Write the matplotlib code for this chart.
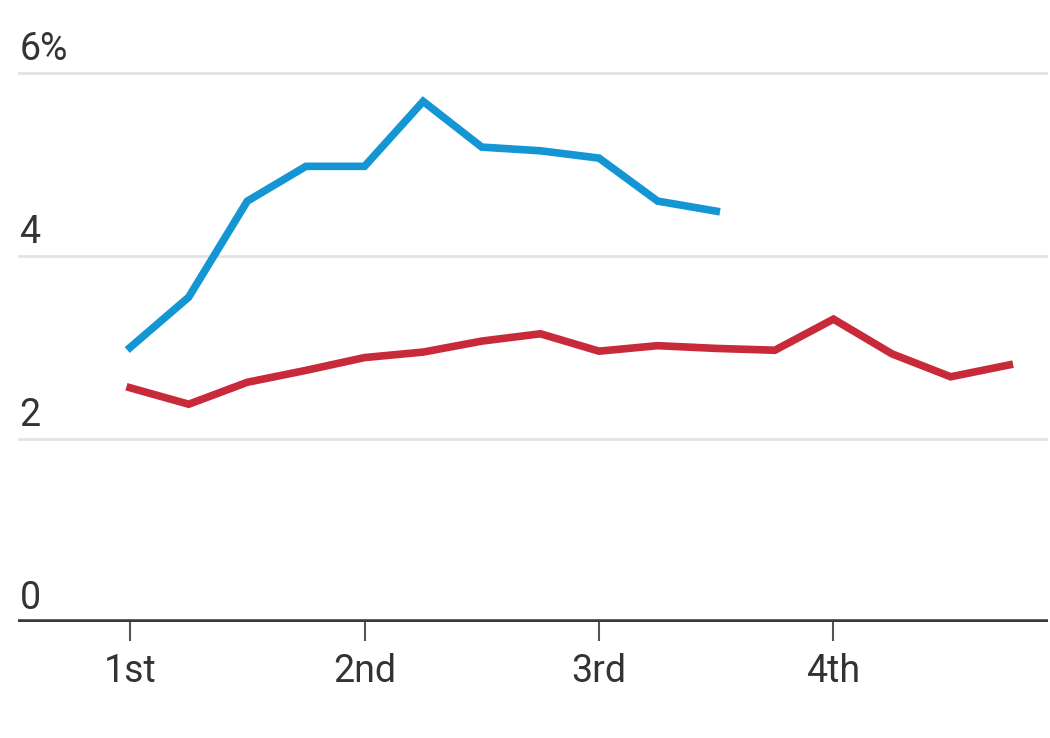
import matplotlib
matplotlib.use("Agg")
import matplotlib.pyplot as plt
from matplotlib import font_manager

# quarter positions (1 = 1st quarter, steps of a quarter)
x_blue = [1.0, 1.25, 1.5, 1.75, 2.0, 2.25, 2.5, 2.75, 3.0, 3.25, 3.5]
y_blue = [3.0, 3.55, 4.6, 4.98, 4.98, 5.69, 5.19, 5.15, 5.07, 4.6, 4.49]

x_red = [1.0, 1.25, 1.5, 1.75, 2.0, 2.25, 2.5, 2.75, 3.0, 3.25, 3.5, 3.75,
         4.0, 4.25, 4.5, 4.75]
y_red = [2.56, 2.38, 2.62, 2.75, 2.89, 2.95, 3.07, 3.15, 2.96, 3.02, 2.99,
         2.97, 3.31, 2.93, 2.68, 2.81]

x_ticks = [1, 2, 3, 4]
x_labels = ["1st", "2nd", "3rd", "4th"]
y_ticks = [0, 2, 4, 6]
y_labels = ["0", "2", "4", "6%"]

names = {f.name for f in font_manager.fontManager.ttflist}
family = "Liberation Sans Narrow" if "Liberation Sans Narrow" in names else "Roboto"
plt.rcParams["font.family"] = [family, "DejaVu Sans"]

fig = plt.figure(figsize=(10.5, 7.38), dpi=100)
ax = fig.add_axes([18 / 1050, 1 - 622 / 738, 1030 / 1050, 560 / 738])

blue = "#1496d4"
red = "#c92a3a"
ax.plot(x_blue, y_blue, color=blue, lw=5.5, solid_joinstyle="miter", zorder=3)
ax.plot(x_red, y_red, color=red, lw=5.5, solid_joinstyle="miter", zorder=3)

ax.set_xlim(0.522, 4.915)
ax.set_ylim(0, 560 / 91.5)

# horizontal gridlines with labels sitting above them on the left
for v, lab in zip(y_ticks, y_labels):
    if v > 0:
        ax.axhline(v, color="#e3e3e3", lw=2, zorder=1)
    ax.text(0.528, v + 0.06, lab, fontsize=27, color="#333333",
            ha="left", va="bottom", zorder=4)

ax.axhline(0, color="#3a3a3a", lw=4, zorder=2)

ax.set_xticks(x_ticks)
ax.set_xticklabels(x_labels, fontsize=27, color="#333333")
ax.tick_params(axis="x", length=14, width=1.5, color="#555555", pad=8)
ax.set_yticks([])
for s in ax.spines.values():
    s.set_visible(False)

fig.savefig("out.png", dpi=100, facecolor="white")
